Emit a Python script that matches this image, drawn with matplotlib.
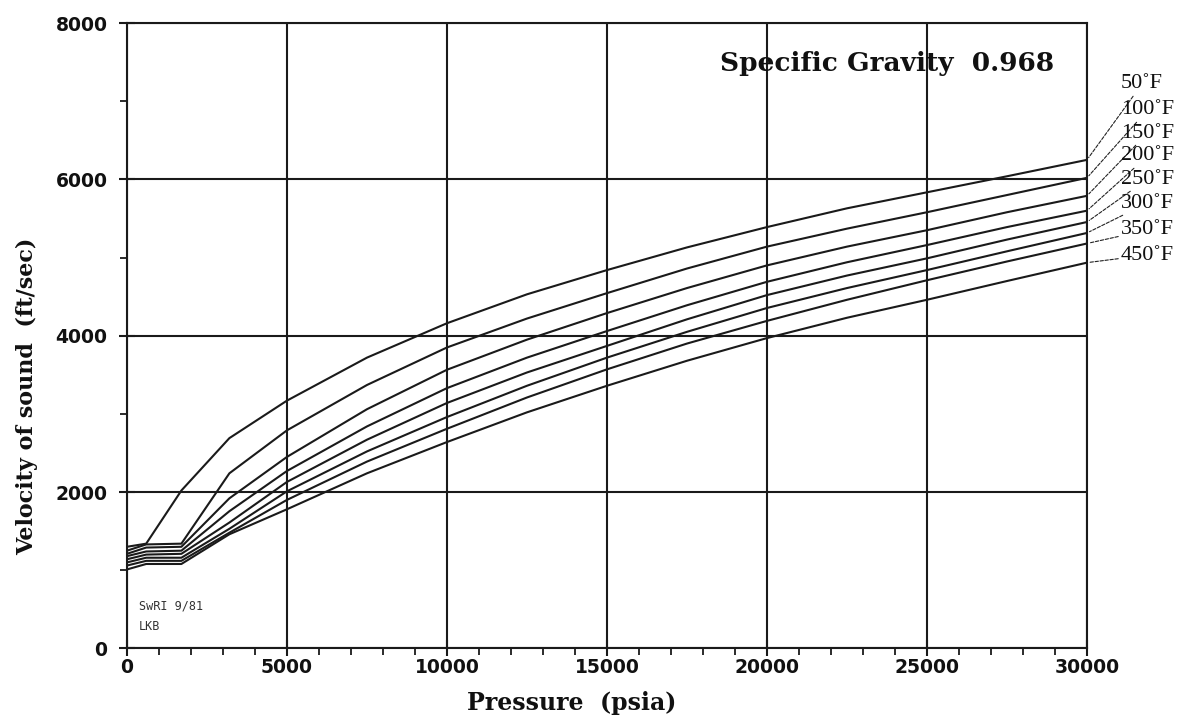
import matplotlib.pyplot as plt
from matplotlib.ticker import MultipleLocator

# pressure (psia) and sound velocity (ft/sec)
pressure = [0, 600, 1700, 3200, 5000, 7500, 10000, 12500, 15000, 17500,
            20000, 22500, 25000, 27500, 30000]

v50 = [1300, 1340, 2020, 2690, 3170, 3720, 4160, 4530, 4840, 5130, 5390, 5630, 5835, 6040, 6250]
v100 = [1250, 1330, 1340, 2240, 2790, 3370, 3850, 4220, 4545, 4860, 5140, 5370, 5580, 5800, 6020]
v150 = [1210, 1290, 1300, 1920, 2450, 3060, 3565, 3950, 4290, 4610, 4900, 5140, 5350, 5580, 5790]
v200 = [1180, 1240, 1250, 1755, 2270, 2840, 3330, 3720, 4060, 4390, 4690, 4940, 5160, 5390, 5600]
v250 = [1140, 1200, 1210, 1610, 2130, 2670, 3140, 3530, 3870, 4210, 4520, 4770, 4990, 5230, 5455]
v300 = [1100, 1160, 1160, 1530, 2010, 2520, 2960, 3360, 3720, 4050, 4355, 4610, 4840, 5080, 5315]
v350 = [1060, 1120, 1120, 1480, 1900, 2390, 2810, 3210, 3570, 3900, 4190, 4460, 4710, 4950, 5180]
v450 = [1010, 1080, 1080, 1460, 1780, 2240, 2640, 3020, 3360, 3680, 3970, 4230, 4460, 4700, 4935]

curves = [v50, v100, v150, v200, v250, v300, v350, v450]
temp_labels = ["50˚F", "100˚F", "150˚F", "200˚F", "250˚F", "300˚F", "350˚F", "450˚F"]
# label positions (figure pixels from top)
label_y = [84, 110, 133, 156, 179, 203, 230, 255]

fig = plt.figure(figsize=(11.89, 7.21), dpi=100)
ax = fig.add_axes([0.1068, 0.1007, 0.8074, 0.8673])

for v in curves:
    ax.plot(pressure, v, color="#1a1a1a", lw=1.5)

ax.set_xlim(0, 30000)
ax.set_ylim(0, 8000)
ax.xaxis.set_major_locator(MultipleLocator(5000))
ax.xaxis.set_minor_locator(MultipleLocator(1000))
ax.yaxis.set_major_locator(MultipleLocator(2000))
ax.yaxis.set_minor_locator(MultipleLocator(1000))
ax.grid(True, which="major", color="#1a1a1a", lw=1.5)
for s in ax.spines.values():
    s.set_color("#1a1a1a")
    s.set_linewidth(1.5)

ax.tick_params(which="major", direction="inout", length=12, width=1.5, color="#1a1a1a")
ax.tick_params(which="minor", direction="out", length=5, width=1.3, color="#1a1a1a")
ax.tick_params(axis="x", pad=1)
ax.tick_params(axis="y", pad=8)
for lab in ax.get_xticklabels() + ax.get_yticklabels():
    lab.set_fontweight("bold")
    lab.set_fontsize(13.5)
    lab.set_color("#111111")

ax.set_xlabel("Pressure  (psia)", family="DejaVu Serif", fontweight="bold",
              fontsize=17, color="#111111")
ax.xaxis.set_label_coords(0.4635, -0.068)
ax.set_ylabel("Velocity of sound  (ft/sec)", family="DejaVu Serif", fontweight="bold",
              fontsize=16, color="#111111")
ax.yaxis.set_label_coords(-0.093, 0.403)

fig.text(720 / 1189, 1 - 63 / 721, "Specific Gravity  0.968", family="DejaVu Serif",
         fontweight="bold", fontsize=19, va="center", ha="left", color="#111111")

ax.text(0.012, 0.062, "SwRI 9/81", transform=ax.transAxes, family="DejaVu Sans Mono",
        fontsize=8.5, color="#333333")
ax.text(0.012, 0.030, "LKB", transform=ax.transAxes, family="DejaVu Sans Mono",
        fontsize=8.5, color="#333333")

for v, lab, ly in zip(curves, temp_labels, label_y):
    ax.annotate(lab, xy=(30000, v[-1]), xycoords="data",
                xytext=(1121, 721 - ly), textcoords="figure pixels",
                family=["Liberation Serif", "DejaVu Serif"], fontsize=16,
                va="center", ha="left", color="#111111",
                arrowprops=dict(arrowstyle="-", color="#222222", lw=0.8,
                                linestyle=(0, (3, 1.5)), shrinkA=0, shrinkB=2))

fig.savefig("out.png", dpi=100, facecolor="white")
